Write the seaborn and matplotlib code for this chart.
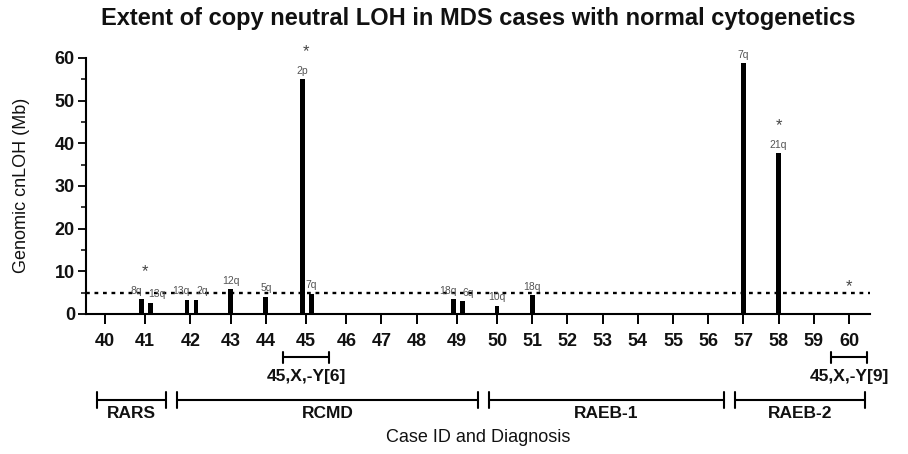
import numpy as np
import pandas as pd
import matplotlib
matplotlib.use('Agg')
import matplotlib.pyplot as plt
import seaborn as sns
from matplotlib.transforms import blended_transform_factory
from matplotlib.ticker import MultipleLocator

# ---------------- data ----------------
cases = list(range(40, 61))
bar_case = [41, 41, 42, 42, 43, 44, 45, 45, 49, 49, 50, 51, 57, 58]
bar_mb = [3.5, 2.6, 3.3, 3.3, 5.8, 4.0, 55.0, 4.7, 3.5, 3.0, 1.9, 4.4, 58.8, 37.7]
bar_region = ['8q', '13q', '13q', '2q', '12q', '5q', '2p', '7q', '18q', '6q',
              '10q', '18q', '7q', '21q']
starred_cases = [41, 45, 58, 60]
threshold_mb = 5
diag_names = ['RARS', 'RCMD', 'RAEB-1', 'RAEB-2']
diag_first = [40, 42, 50, 57]
diag_last = [41, 49, 56, 60]
karyo_labels = ['45,X,-Y[6]', '45,X,-Y[9]']
karyo_cases = [45, 60]
y_ticks = [0, 10, 20, 30, 40, 50, 60]

# ---------------- style ----------------
sns.set_theme(style='ticks')
plt.rcParams['font.family'] = ['Liberation Sans', 'DejaVu Sans']

W, H = 908, 454
fig = plt.figure(figsize=(W / 100, H / 100), dpi=100)
ax_l, ax_r, ax_t, ax_b = 86, 870, 58, 314
ax = fig.add_axes([ax_l / W, 1 - ax_b / H, (ax_r - ax_l) / W, (ax_b - ax_t) / H])

# slot layout: cases with two bars get a wider slot
nbars = {c: bar_case.count(c) for c in cases}
slot = {c: (1.0 if nbars[c] < 2 else 45 / 35) for c in cases}
pos = {}
x = 0.0
prev = None
for c in cases:
    if prev is not None:
        x += slot[prev] / 2 + slot[c] / 2
    pos[c] = x
    prev = c

off = 0.125
bar_x = []
label_x = []
seen = {}
for c, v in zip(bar_case, bar_mb):
    k = seen.get(c, 0)
    seen[c] = k + 1
    if nbars[c] == 2:
        sgn = -1 if k == 0 else 1
        bx = pos[c] + 0.03 + sgn * off
        others = [vv for cc, vv in zip(bar_case, bar_mb) if cc == c]
        spread = 0.17 if abs(others[0] - others[1]) < 10 else 0.0
        bar_x.append(bx)
        label_x.append(bx + sgn * spread)
    else:
        bar_x.append(pos[c])
        label_x.append(pos[c])

df = pd.DataFrame({'x': bar_x, 'mb': bar_mb})
sns.barplot(data=df, x='x', y='mb', native_scale=True, width=0.54,
            color='black', saturation=1, errorbar=None, ax=ax,
            edgecolor='black', linewidth=0)

ax.axhline(threshold_mb, color='black', lw=1.7, ls=(0, (1.6, 2.0)), zorder=3)

# bar labels
for lx, bx, v, lab in zip(label_x, bar_x, bar_mb, bar_region):
    ax.annotate(lab, (lx, v), xytext=(0, 2.5), textcoords='offset points',
                ha='center', va='bottom', fontsize=7.5, color='#555555',
                annotation_clip=False)

# asterisks
for c in starred_cases:
    tops = [v for cc, v in zip(bar_case, bar_mb) if cc == c]
    top = max(tops) if tops else 0
    ax.annotate('*', (pos[c], top), xytext=(0, 16.5), textcoords='offset points',
                ha='center', va='baseline', fontsize=12, color='#444444',
                annotation_clip=False)

# axes
x_unit = (849 - 105) / (pos[60] - pos[40])
ax.set_xlim(pos[40] - (105 - ax_l) / x_unit, pos[60] + (ax_r - 849) / x_unit)
ax.set_ylim(0, 60)
ax.set_xticks([pos[c] for c in cases])
ax.set_xticklabels([str(c) for c in cases], fontsize=13, fontweight='bold')
ax.set_yticks(y_ticks)
ax.set_yticklabels([str(t) for t in y_ticks], fontsize=13, fontweight='bold')
ax.yaxis.set_minor_locator(MultipleLocator(5))
ax.tick_params(axis='x', length=7, width=1.4, pad=6.5, color='black', labelcolor='#111111')
ax.tick_params(axis='y', which='major', length=6, width=1.3, pad=2, color='black', labelcolor='#111111')
ax.tick_params(axis='y', which='minor', length=3.5, width=1.1, color='black')
ax.set_xlabel('')
ax.set_ylabel('')
for s in ['top', 'right']:
    ax.spines[s].set_visible(False)
for s in ['left', 'bottom']:
    ax.spines[s].set_linewidth(1.5)
    ax.spines[s].set_color('black')

trans = blended_transform_factory(ax.transData, ax.transAxes)
ah = ax_b - ax_t


def ay(px):
    return -(px - ax_b) / ah


def bracket(x0, x1, ypx, cap_px):
    y = ay(ypx)
    cap = cap_px / ah
    ax.plot([x0, x1], [y, y], color='black', lw=1.5, transform=trans, clip_on=False)
    for xx in (x0, x1):
        ax.plot([xx, xx], [y - cap, y + cap], color='black', lw=1.5,
                transform=trans, clip_on=False)


for lab, c in zip(karyo_labels, karyo_cases):
    x0 = pos[c] - slot[c] / 2
    x1 = pos[c] + slot[c] / 2
    bracket(x0, x1, 357, 5.5)
    ax.text(pos[c], ay(376), lab, transform=trans, ha='center', va='center',
            fontsize=12.5, fontweight='bold', color='#111111')

for name, c0, c1 in zip(diag_names, diag_first, diag_last):
    x0 = pos[c0] - slot[c0] / 2 + 0.27
    x1 = pos[c1] + slot[c1] / 2 - 0.05
    bracket(x0, x1, 400, 8)
    ax.text((x0 + x1) / 2, ay(413), name, transform=trans, ha='center', va='center',
            fontsize=12.5, fontweight='bold', color='#111111')

fig.text(478 / W, 1 - 438 / H, 'Case ID and Diagnosis', ha='center', va='center',
         fontsize=13, color='#111111')
fig.text(22 / W, 1 - 185 / H, 'Genomic cnLOH (Mb)', rotation=90, ha='center',
         va='center', fontsize=13, color='#111111')
fig.text(478 / W, 1 - 19 / H,
         'Extent of copy neutral LOH in MDS cases with normal cytogenetics',
         ha='center', va='center', fontsize=17, fontweight='bold', color='#111111')

fig.savefig('out.png', dpi=100, facecolor='white')
